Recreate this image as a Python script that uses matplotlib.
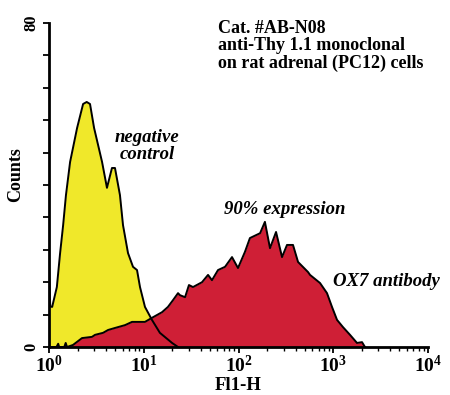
import matplotlib
matplotlib.use('Agg')
import matplotlib.pyplot as plt
from matplotlib.ticker import FixedLocator, LogLocator, NullFormatter

plt.rcParams['font.family'] = ['Liberation Serif', 'DejaVu Serif']
plt.rcParams['font.weight'] = 'bold'
plt.rcParams['mathtext.fontset'] = 'custom'
plt.rcParams['mathtext.rm'] = 'Liberation Serif:bold'
plt.rcParams['mathtext.it'] = 'Liberation Serif:bold:italic'
plt.rcParams['mathtext.bf'] = 'Liberation Serif:bold'

# negative control histogram (Fl1-H, counts)
neg_x = [1.0, 1.03, 1.08, 1.21, 1.31, 1.41, 1.51, 1.67, 1.98, 2.29, 2.5, 2.71,
         2.99, 3.63, 4.09, 4.62, 4.97, 5.61, 6.04, 6.82, 7.7, 8.49, 9.13, 10.3,
         12.2, 14.8, 19.9, 23.0]
neg_y = [20, 10, 9.9, 14.8, 23.2, 30.1, 37.5, 45.7, 54.1, 60, 60.5, 60,
         54.1, 45.7, 39.3, 44.2, 44.2, 37.5, 30.1, 23.2, 19.8, 19, 14.8, 9.9,
         6.7, 3.5, 1.0, 0]

# OX7 antibody histogram
ox7_x = [1.0, 1.2, 1.25, 1.28, 1.45, 1.5, 1.55, 1.79, 2.23, 2.84, 3.06, 3.72,
         4.2, 4.97, 6.34, 7.52, 10.3, 12.2, 13.8, 15.6, 18.0, 20.4, 23.0, 24.1,
         27.3, 30.0, 33.1, 41.2, 47.7, 52.5, 60.8, 72.1, 85.4, 98.8, 117, 132,
         169, 190, 215, 249, 288, 325, 376, 425, 542, 569, 725, 859, 970, 1096,
         1268, 1503, 1781, 2012, 2162]
ox7_y = [0, 0, 0.8, 0, 0, 1, 0, 0.5, 2.2, 2.5, 3, 3.5,
         4.2, 4.7, 5.4, 6.2, 6.2, 7.2, 7.9, 8.6, 9.9, 11.6, 13.3, 12.8,
         12.3, 15.3, 14.8, 16, 17.8, 16.5, 19, 19.8, 22.2, 19.5, 23.5, 26.9,
         28.1, 30.9, 24.4, 28.4, 22.2, 25.2, 25.2, 21, 18.5, 17.8, 15.8, 13.3, 9.9, 6.7,
         4.9, 3, 1, 1.2, 0]

yellow = '#f0e82a'
red = '#cf1f36'

fig = plt.figure(figsize=(4.5, 3.95), dpi=100)
ax = fig.add_axes([49/450, 48/395, 379/450, 324/395])

ax.fill_between(neg_x, neg_y, 0, color=yellow, lw=0, zorder=1)
ax.fill_between(ox7_x, ox7_y, 0, color=red, lw=0, zorder=2)
ax.plot(neg_x, neg_y, color='black', lw=1.4, zorder=3)
ax.plot(ox7_x, ox7_y, color='black', lw=1.4, zorder=3)

ax.set_xscale('log')
ax.set_xlim(1, 1e4)
ax.set_ylim(0, 80)

# axes look
ax.spines['top'].set_visible(False)
ax.spines['right'].set_visible(False)
ax.spines['left'].set_linewidth(2)
ax.spines['bottom'].set_linewidth(2)

ax.xaxis.set_major_locator(FixedLocator([1, 10, 100, 1000, 10000]))
ax.set_xticklabels(['$10^{0}$', '$10^{1}$', '$10^{2}$', '$10^{3}$', '$10^{4}$'])
ax.xaxis.set_minor_locator(LogLocator(base=10, subs=range(2, 10)))
ax.xaxis.set_minor_formatter(NullFormatter())
ax.tick_params(axis='x', which='major', length=4, width=1.3, labelsize=14, pad=2)
ax.tick_params(axis='x', which='minor', length=3, width=1)

ax.set_yticks([0, 8, 16, 24, 32, 40, 48, 56, 64, 72, 80])
ax.set_yticklabels(['0', '', '', '', '', '', '', '', '', '', '80'],
                   rotation=90, va='center')
ax.tick_params(axis='y', length=4, width=1.3, labelsize=12, pad=3)

ax.set_xlabel('Fl1-H', fontsize=13.5, fontweight='bold', labelpad=0)
fig.text(16/450, 1 - 175/395, 'Counts', rotation=90, fontsize=13,
         fontweight='bold', ha='center', va='center')

fig.text(218/450, 1 - 46/395, 'Cat. #AB-N08\nanti-Thy 1.1 monoclonal\non rat adrenal (PC12) cells',
         fontsize=13, fontweight='bold', ha='left', va='center', linespacing=1.0)
fig.text(147/450, 1 - 146/395, 'negative\ncontrol', fontsize=13.5, fontweight='bold',
         style='italic', ha='center', va='center', linespacing=0.95)
fig.text(285/450, 1 - 210/395, '90% expression', fontsize=13.5, fontweight='bold',
         style='italic', ha='center', va='center')
fig.text(333/450, 1 - 281/395, 'OX7 antibody', fontsize=13.5, fontweight='bold',
         style='italic', ha='left', va='center')

fig.savefig('out.png', dpi=100)
